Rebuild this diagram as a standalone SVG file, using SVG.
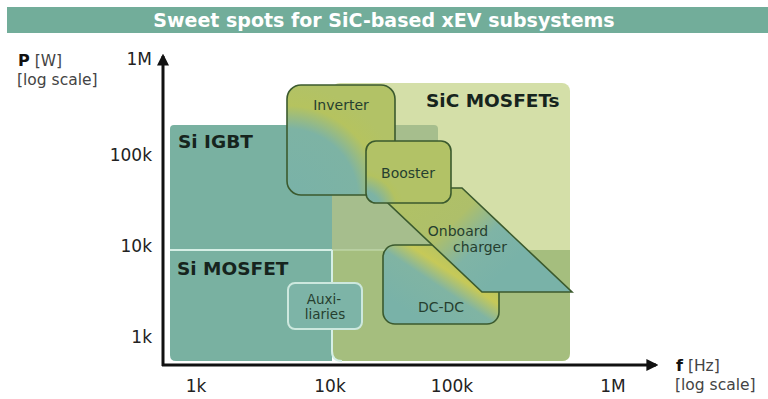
<svg xmlns="http://www.w3.org/2000/svg" width="768" height="399" viewBox="0 0 768 399">
  <defs>
    <style>
      .title { font-family: "DejaVu Sans", Verdana, sans-serif; font-weight: bold; font-size: 19px; fill: #ffffff; }
      .ax { font-family: "DejaVu Sans", Verdana, sans-serif; font-size: 17px; fill: #222222; }
      .axname { font-family: "DejaVu Sans", Verdana, sans-serif; font-size: 15.5px; fill: #444444; }
      .axname tspan.b { font-weight: bold; fill: #111111; font-size: 16px; }
      .region { font-family: "DejaVu Sans", Verdana, sans-serif; font-weight: bold; font-size: 18.5px; fill: #16241d; }
      .lbl { font-family: "DejaVu Sans", Verdana, sans-serif; font-size: 14px; fill: #263f2f; text-anchor: middle; }
      .box { stroke: #3b5a2e; stroke-width: 1.6; }
      .axis { stroke: #111111; stroke-width: 3; fill: none; }
    </style>
    <marker id="arrow" viewBox="0 0 10 10" refX="8" refY="5" markerWidth="4" markerHeight="4" orient="auto" markerUnits="strokeWidth">
      <path d="M0,0 L10,5 L0,10 z" fill="#111111"/>
    </marker>
    <radialGradient id="gInverter" gradientUnits="userSpaceOnUse" cx="287" cy="200" r="115">
      <stop offset="0" stop-color="#79b2a8"/>
      <stop offset="0.62" stop-color="#7db3a4"/>
      <stop offset="0.82" stop-color="#b5c35f"/>
      <stop offset="1" stop-color="#b2c266"/>
    </radialGradient>
    <radialGradient id="gBooster" gradientUnits="userSpaceOnUse" cx="362" cy="210" r="42">
      <stop offset="0" stop-color="#79b2a8"/>
      <stop offset="0.45" stop-color="#7db3a4"/>
      <stop offset="0.85" stop-color="#b3c260"/>
      <stop offset="1" stop-color="#b2c266"/>
    </radialGradient>
    <linearGradient id="gCharger" gradientUnits="userSpaceOnUse" x1="420" y1="195" x2="500" y2="275">
      <stop offset="0" stop-color="#b0c166"/>
      <stop offset="0.38" stop-color="#aebf6a"/>
      <stop offset="0.68" stop-color="#7fb4a6"/>
      <stop offset="1" stop-color="#79b2a8"/>
    </linearGradient>
    <linearGradient id="gDcdc" gradientUnits="userSpaceOnUse" x1="420" y1="320" x2="476" y2="236">
      <stop offset="0" stop-color="#79b2a8"/>
      <stop offset="0.38" stop-color="#80b4a3"/>
      <stop offset="0.56" stop-color="#c6c958"/>
      <stop offset="0.75" stop-color="#b2c266"/>
      <stop offset="1" stop-color="#b2c266"/>
    </linearGradient>
  </defs>

  <!-- title banner -->
  <g id="title">
    <rect x="7" y="7" width="761" height="26" fill="#72ad9a"/>
    <text class="title" x="384" y="27" text-anchor="middle">Sweet spots for SiC-based xEV subsystems</text>
  </g>

  <!-- technology areas -->
  <g id="sic-mosfets">
    <rect x="332" y="83" width="238" height="278" rx="8" fill="#d4dfa8"/>
    <text class="region" x="426" y="107">SiC MOSFETs</text>
  </g>
  <g id="si-igbt">
    <path d="M174,125 H332 V250 H170 V129 Q170,125 174,125 Z" fill="#79b1a1"/>
    <path d="M332,125 H434 Q438,125 438,129 V250 H332 Z" fill="#a6be8d"/>
    <text class="region" x="178" y="148">Si IGBT</text>
  </g>
  <g id="si-mosfet">
    <path d="M170,250 H332 V361 H176 Q170,361 170,355 Z" fill="#79b1a1"/>
    <path d="M332,250 H570 V353 Q570,361 562,361 H342 Q332,361 332,351 Z" fill="#a5be7e"/>
    <line x1="332" y1="250" x2="395" y2="250" stroke="#c9dfb6" stroke-width="1.5" opacity="0.7"/>
    <path d="M170,250 H332 M332,250 V351 Q332,361 342,361" fill="none" stroke="#d6efe6" stroke-width="2"/>
    <text class="region" x="177" y="275">Si MOSFET</text>
  </g>

  <!-- application blocks -->
  <g id="auxiliaries">
    <rect x="288" y="283" width="74" height="46" rx="7" fill="#7db4a7" stroke="#cde8de" stroke-width="2"/>
    <text class="lbl" x="324" y="304" style="font-size:13.5px">Auxi-</text>
    <text class="lbl" x="325" y="319" style="font-size:13.5px">liaries</text>
  </g>
  <g id="dc-dc">
    <rect class="box" x="383" y="245" width="116" height="79" rx="12" fill="url(#gDcdc)"/>
    <text class="lbl" x="441" y="312">DC-DC</text>
  </g>
  <g id="onboard-charger">
    <polygon class="box" points="372,188 462,188 572,292 482,292" fill="url(#gCharger)"/>
    <text class="lbl" x="458" y="236">Onboard</text>
    <text class="lbl" x="480" y="252">charger</text>
  </g>
  <g id="inverter">
    <rect class="box" x="287" y="85" width="108" height="110" rx="14" fill="url(#gInverter)"/>
    <text class="lbl" x="341" y="110">Inverter</text>
  </g>
  <g id="booster">
    <rect class="box" x="366" y="141" width="85" height="62" rx="10" fill="url(#gBooster)"/>
    <text class="lbl" x="408" y="178">Booster</text>
  </g>

  <!-- axes -->
  <g id="connectors">
    <line class="axis" x1="163" y1="366" x2="163" y2="56" marker-end="url(#arrow)"/>
    <line class="axis" x1="162" y1="365" x2="656" y2="365" marker-end="url(#arrow)"/>
  </g>

  <g id="y-axis-labels">
    <text class="axname" x="18" y="66"><tspan class="b">P</tspan> [W]</text>
    <text class="axname" x="17" y="85">[log scale]</text>
    <text class="ax" x="152" y="65" text-anchor="end">1M</text>
    <text class="ax" x="152" y="161" text-anchor="end">100k</text>
    <text class="ax" x="152" y="252" text-anchor="end">10k</text>
    <text class="ax" x="152" y="343" text-anchor="end">1k</text>
  </g>
  <g id="x-axis-labels">
    <text class="ax" x="196" y="392" text-anchor="middle">1k</text>
    <text class="ax" x="330" y="392" text-anchor="middle">10k</text>
    <text class="ax" x="452" y="392" text-anchor="middle">100k</text>
    <text class="ax" x="613" y="392" text-anchor="middle">1M</text>
    <text class="axname" x="676" y="371"><tspan class="b">f</tspan> [Hz]</text>
    <text class="axname" x="675" y="390">[log scale]</text>
  </g>
</svg>
